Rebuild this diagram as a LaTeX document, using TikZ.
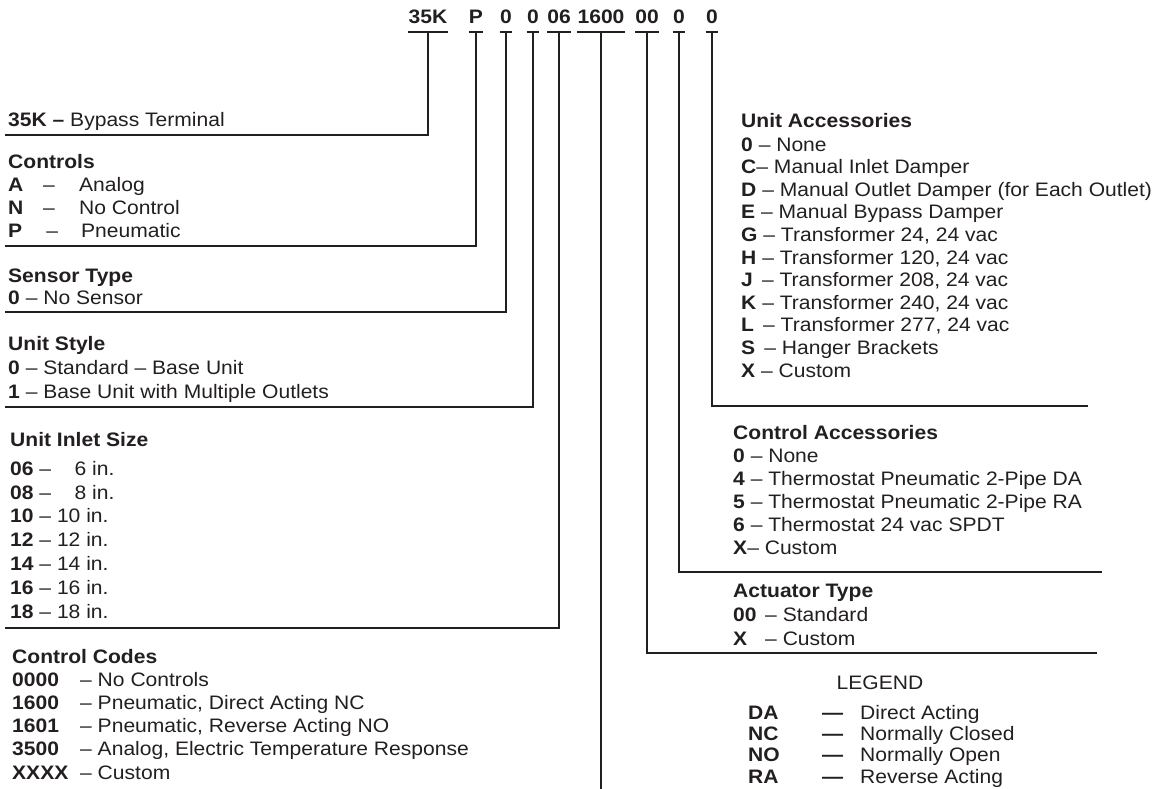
\documentclass[tikz,border=0pt]{standalone}
\usepackage{fontspec}
\setmainfont[FakeStretch=1.08]{Liberation Sans}
\usetikzlibrary{positioning}

\definecolor{ink}{RGB}{35,31,32}
\newcommand{\labelsize}[1]{\fontsize{19.5}{#1}\selectfont}

\tikzset{
  code/.style={font=\labelsize{23}\bfseries, inner xsep=0pt, inner ysep=8pt, anchor=base},
  sect/.style={align=left, inner sep=0pt, anchor=base west},
  lead/.style={draw=ink, line width=2pt},
}

\begin{document}
\begin{tikzpicture}[x=1pt, y=-1pt, text=ink, font=\labelsize{23}]
      \useasboundingbox (0,0) rectangle (1156,789);

      % model number
      \node (kmodel) [code] at (428,24) {35K};
      \node (kctrl) [code] at (476,24) {P};
      \node (ksensor) [code] at (506,24) {0};
      \node (kstyle) [code] at (533,24) {0};
      \node (kinlet) [code] at (559,24) {06};
      \node (kcc) [code] at (601,24) {1600};
      \node (kact) [code] at (647,24) {00};
      \node (kctrlacc) [code] at (679,24) {0};
      \node (kunitacc) [code] at (712,24) {0};

      % left column (anchored at the last line)
      \node (bypass) [sect] at (8,127) {\textbf{35K –} Bypass Terminal};
      \node (controls) [sect, font=\labelsize{23}] at (8,237) {\textbf{Controls}\\
        \makebox[35pt][l]{\textbf{A}}\makebox[36pt][l]{–}Analog\\
        \makebox[35pt][l]{\textbf{N}}\makebox[36pt][l]{–}No Control\\
        \makebox[35pt][l]{\textbf{P}}\makebox[38pt][l]{\,–}Pneumatic};
      \node (sensor) [sect, font=\labelsize{22}] at (8,304) {\textbf{Sensor Type}\\
        \textbf{0} – No Sensor};
      \node (style) [sect, font=\labelsize{24}] at (8,398) {\textbf{Unit Style}\\
        \textbf{0} – Standard – Base Unit\\
        \textbf{1} – Base Unit with Multiple Outlets};
      \node (inlet) [sect, font=\labelsize{23.8}] at (10,618) {\textbf{Unit Inlet Size}\\[5pt]
        \textbf{06} –\ \ \phantom{1}6 in.\\
        \textbf{08} –\ \ \phantom{1}8 in.\\
        \textbf{10} – 10 in.\\
        \textbf{12} – 12 in.\\
        \textbf{14} – 14 in.\\
        \textbf{16} – 16 in.\\
        \textbf{18} – 18 in.};
      \node (ccodes) [sect, font=\labelsize{23.2}] at (12,779) {\textbf{Control Codes}\\
        \makebox[68pt][l]{\textbf{0000}}– No Controls\\
        \makebox[68pt][l]{\textbf{1600}}– Pneumatic, Direct Acting NC\\
        \makebox[68pt][l]{\textbf{1601}}– Pneumatic, Reverse Acting NO\\
        \makebox[68pt][l]{\textbf{3500}}– Analog, Electric Temperature Response\\
        \makebox[68pt][l]{\textbf{XXXX}}– Custom};

      % right column
      \node (unitacc) [sect, font=\labelsize{22.6}] at (741,377) {\textbf{Unit Accessories}\\[1.4pt]
        \textbf{0} – None\\
        \textbf{C}– Manual Inlet Damper\\
        \textbf{D} – Manual Outlet Damper (for Each Outlet)\\
        \textbf{E} – Manual Bypass Damper\\
        \textbf{G} – Transformer 24, 24 vac\\
        \textbf{H} – Transformer 120, 24 vac\\
        \textbf{J} \,– Transformer 208, 24 vac\\
        \textbf{K} – Transformer 240, 24 vac\\
        \textbf{L} \,– Transformer 277, 24 vac\\
        \textbf{S} \,– Hanger Brackets\\
        \textbf{X} – Custom};
      \node (ctrlacc) [sect, font=\labelsize{22.8}] at (733,554) {\textbf{Control Accessories}\\[0.2pt]
        \textbf{0} – None\\
        \textbf{4} – Thermostat Pneumatic 2-Pipe DA\\
        \textbf{5} – Thermostat Pneumatic 2-Pipe RA\\
        \textbf{6} – Thermostat 24 vac SPDT\\
        \textbf{X}– Custom};
      \node (actuator) [sect, font=\labelsize{24}] at (733,645) {\textbf{Actuator Type}\\
        \makebox[32pt][l]{\textbf{00}}– Standard\\
        \makebox[32pt][l]{\textbf{X}}– Custom};

      % legend
      \node (legtitle) [anchor=base, inner sep=0pt] at (880,689) {LEGEND};
      \node (legend) [sect, font=\labelsize{21.3}] at (748,783) {%
        \makebox[74pt][l]{\textbf{DA}}\makebox[38pt][l]{\textbf{—}}Direct Acting\\
        \makebox[74pt][l]{\textbf{NC}}\makebox[38pt][l]{\textbf{—}}Normally Closed\\
        \makebox[74pt][l]{\textbf{NO}}\makebox[38pt][l]{\textbf{—}}Normally Open\\
        \makebox[74pt][l]{\textbf{RA}}\makebox[38pt][l]{\textbf{—}}Reverse Acting};

      % line ends
      \coordinate (bypassend) at (5,135);
      \coordinate (controlsend) at (5,246);
      \coordinate (sensorend) at (5,312);
      \coordinate (styleend) at (5,407);
      \coordinate (inletend) at (5,628);
      \coordinate (ccodesend) at (601,789);
      \coordinate (unitaccend) at (1088,406);
      \coordinate (ctrlaccend) at (1102,572);
      \coordinate (actuatorend) at (1097,653);

      \foreach \k in {kmodel,kctrl,ksensor,kstyle,kinlet,kcc,kact,kctrlacc,kunitacc}
        \draw[lead] (\k.south west) -- (\k.south east);

      \draw[lead] (kmodel.south) |- (bypassend);
      \draw[lead] (kctrl.south) |- (controlsend);
      \draw[lead] (ksensor.south) |- (sensorend);
      \draw[lead] (kstyle.south) |- (styleend);
      \draw[lead] (kinlet.south) |- (inletend);
      \draw[lead] (kcc.south) -- (ccodesend);
      \draw[lead] (kact.south) |- (actuatorend);
      \draw[lead] (kctrlacc.south) |- (ctrlaccend);
      \draw[lead] (kunitacc.south) |- (unitaccend);
    \end{tikzpicture}
\end{document}
